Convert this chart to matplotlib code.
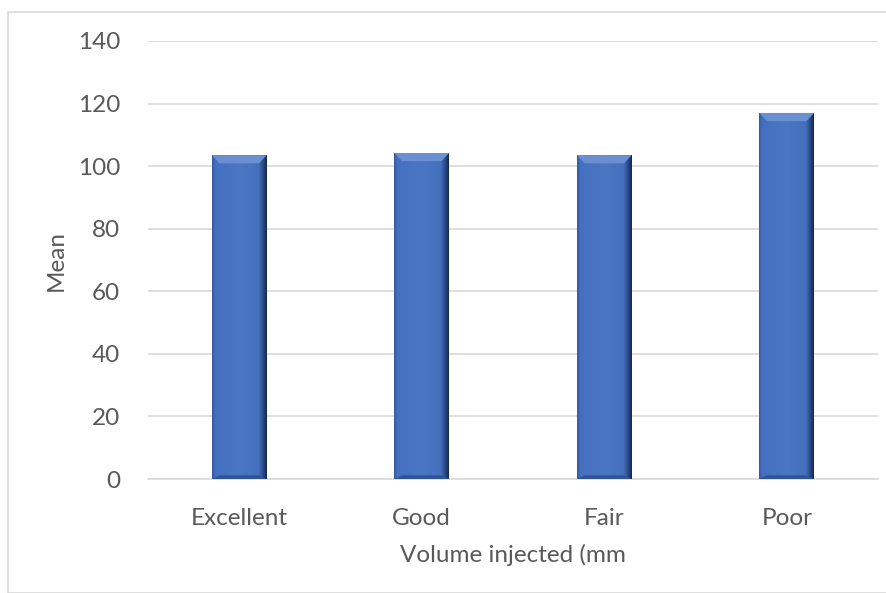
import numpy as np
import matplotlib.pyplot as plt
from matplotlib.colors import LinearSegmentedColormap
from matplotlib.patches import Rectangle, Polygon

categories = ["Excellent", "Good", "Fair", "Poor"]
means = [103.5, 104.2, 103.5, 117.0]
yticks = [0, 20, 40, 60, 80, 100, 120, 140]

plt.rcParams['font.family'] = ['Lato', 'DejaVu Sans']
fig = plt.figure(figsize=(8.86, 5.93), dpi=100)
ax = fig.add_axes([0.167, 0.1922, 0.824, 0.7387])

# outer frame
fig.patches.append(Rectangle((8/886, 0), 1, 1 - 12/593, transform=fig.transFigure,
                             fill=False, edgecolor='#d9d9d9', linewidth=1.2))

ax.set_xlim(-0.5, 3.5)
ax.set_ylim(0, 140)
width = 0.3
cmap = LinearSegmentedColormap.from_list('bev', [
    (0.0, '#3559a0'), (0.06, '#4470bf'), (0.5, '#4a76c4'),
    (0.85, '#4470bc'), (0.92, '#2d4f8f'), (1.0, '#14284d')])
grad = np.linspace(0, 1, 256).reshape(1, -1)
bars = ax.bar(range(len(categories)), means, width=width, color='#4472c4', zorder=2)
for b in bars:
    x0, w, h = b.get_x(), b.get_width(), b.get_height()
    im = ax.imshow(grad, cmap=cmap, aspect='auto', extent=(x0, x0 + w, 0, h), zorder=3)
    im.set_clip_path(b)
    bev = 2.6
    ins = w * 0.14
    top = Polygon([(x0, h), (x0 + w, h), (x0 + w - ins, h - bev), (x0 + ins, h - bev)],
                  closed=True, facecolor='#6a90d3', edgecolor='none', zorder=4)
    ax.add_patch(top)
    bot = Polygon([(x0, 0), (x0 + w, 0), (x0 + w - ins, 1.2), (x0 + ins, 1.2)],
                  closed=True, facecolor='#2f5596', edgecolor='none', zorder=4)
    ax.add_patch(bot)

ax.set_yticks(yticks)
ax.set_xticks(range(len(categories)))
ax.set_xticklabels(categories)
ax.grid(axis='y', color='#d9d9d9', linewidth=1.2, zorder=0)
ax.set_axisbelow(True)
for s in ['top', 'right', 'left']:
    ax.spines[s].set_visible(False)
ax.spines['bottom'].set_color('#d9d9d9')
ax.spines['bottom'].set_linewidth(1.2)
ax.tick_params(axis='both', length=0, labelsize=17.5, colors='#595959')
ax.tick_params(axis='y', pad=20)
ax.tick_params(axis='x', pad=21)
ax.set_ylabel('Mean', fontsize=17.5, color='#595959')
ax.yaxis.set_label_coords(-0.125, 0.5)
ax.set_xlabel('Volume injected (mm', fontsize=17.5, color='#595959')
ax.xaxis.set_label_coords(0.5, -0.174)
ax.xaxis.label.set_va('center')
ax.yaxis.label.set_va('center')
fig.savefig('out.png', dpi=100)
